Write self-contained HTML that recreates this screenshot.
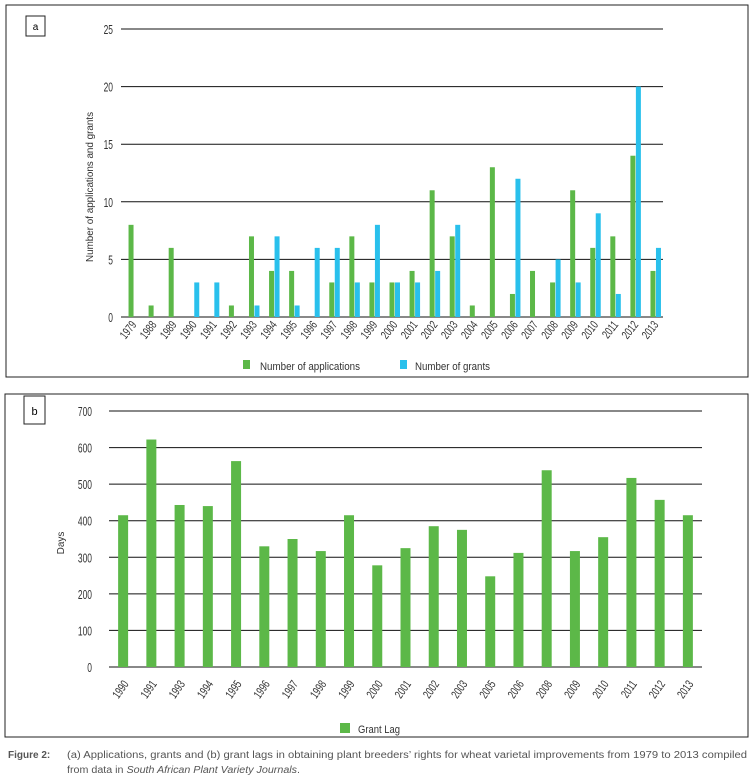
<!DOCTYPE html>
<html><head><meta charset="utf-8"><style>
html,body{margin:0;padding:0;background:#fff;}
svg{display:block;font-family:"Liberation Sans Narrow","Liberation Sans",sans-serif;}
</style></head><body>
<svg id="s" width="750" height="781" viewBox="0 0 750 781">
<rect x="6" y="5" width="742" height="372" fill="none" stroke="#222" stroke-width="1"/>
<rect x="26" y="16" width="19" height="20" fill="none" stroke="#222"/>
<text x="35.5" y="30" font-size="10" text-anchor="middle">a</text>
<text transform="translate(93,187) rotate(-90)" font-size="10" text-anchor="middle" fill="#333" textLength="150" lengthAdjust="spacingAndGlyphs">Number of applications and grants</text>
<g id="ga"></g>
<rect x="243" y="360" width="7" height="9" fill="#5cb848"/>
<text x="260" y="370" font-size="11" fill="#333" textLength="100" lengthAdjust="spacingAndGlyphs">Number of applications</text>
<rect x="400" y="360" width="7" height="9" fill="#29c0ec"/>
<text x="415" y="370" font-size="11" fill="#333" textLength="75" lengthAdjust="spacingAndGlyphs">Number of grants</text>

<rect x="5" y="394" width="743" height="343" fill="none" stroke="#222"/>
<rect x="24" y="396" width="21" height="28" fill="none" stroke="#222"/>
<text x="34.5" y="415" font-size="11" text-anchor="middle">b</text>
<text transform="translate(64,543) rotate(-90)" font-size="10" text-anchor="middle" fill="#333">Days</text>
<g id="gb"></g>
<rect x="340" y="723" width="10" height="10" fill="#5cb848"/>
<text x="358" y="733" font-size="11" fill="#333" textLength="42" lengthAdjust="spacingAndGlyphs">Grant Lag</text>

<text x="8" y="758" font-size="10" font-weight="bold" fill="#555">Figure 2:</text>
<text x="67" y="758" font-size="10" fill="#555" textLength="680" lengthAdjust="spacingAndGlyphs">(a) Applications, grants and (b) grant lags in obtaining plant breeders’ rights for wheat varietal improvements from 1979 to 2013 compiled</text>
<text x="67" y="773" font-size="10" fill="#555" textLength="233" lengthAdjust="spacingAndGlyphs">from data in <tspan font-style="italic">South African Plant Variety Journals</tspan>.</text>
</svg>
<script>
const yearsA = ["1979","1988","1989","1990","1991","1992","1993","1994","1995","1996","1997","1998","1999","2000","2001","2002","2003","2004","2005","2006","2007","2008","2009","2010","2011","2012","2013"];
const applications = [8,1,6,0,0,1,7,4,4,0,3,7,3,3,4,11,7,1,13,2,4,3,11,6,7,14,4];
const grants = [0,0,0,3,3,0,1,7,1,6,6,3,8,3,3,4,8,0,0,12,0,5,3,9,2,20,6];
const ticksA = [0,5,10,15,20,25];
const yearsB = ["1990","1991","1993","1994","1995","1996","1997","1998","1999","2000","2001","2002","2003","2005","2006","2008","2009","2010","2011","2012","2013"];
const grantLag = [415,622,443,440,563,330,350,317,415,278,325,385,375,248,312,538,317,355,517,457,415];
const ticksB = [0,100,200,300,400,500,600,700];
const NS="http://www.w3.org/2000/svg";
function mk(tag,attrs,parent){const e=document.createElementNS(NS,tag);for(const k in attrs)e.setAttribute(k,attrs[k]);parent.appendChild(e);return e;}

// chart a
(function(){
const g=document.getElementById('ga');
const x0=121,x1=663,y0=317,y1=29,max=25;
const step=(x1-x0)/yearsA.length;
const ys=v=>y0-(v/max)*(y0-y1);
const xc=i=>x0+step*(i+0.5);
ticksA.forEach(t=>{
 const l=mk('line',{x1:x0,x2:x1,y1:ys(t),y2:ys(t),stroke:'#111','stroke-width':1},g);
 
 
 const tx=mk('text',{transform:`translate(113,${ys(t)+5}) scale(0.65,1)`,'font-size':13,'text-anchor':'end',fill:'#333'},g);
 tx.textContent=t;
 
 
});
yearsA.forEach((yr,i)=>{
 const c=xc(i);
 const a=applications[i], b=grants[i];
 if(a>0){const r=mk('rect',{x:c-2.5,y:ys(a),width:5,height:y0-ys(a),fill:'#5cb848'},g);
 
 }
 if(b>0){const r=mk('rect',{x:c+3,y:ys(b),width:5,height:y0-ys(b),fill:'#29c0ec'},g);
 
 }
 const t=mk('text',{transform:`translate(${c+6},${y0+8}) rotate(-52) scale(0.7,1)`,'font-size':12,'text-anchor':'end',fill:'#333'},g);
 t.textContent=yr;
 
 
});
})();

// chart b
(function(){
const g=document.getElementById('gb');
const x0=109,x1=702,y0=667,y1=411,max=700;
const step=(x1-x0)/yearsB.length;
const ys=v=>y0-(v/max)*(y0-y1);
const xc=i=>x0+step*(i+0.5);
ticksB.forEach(t=>{
 const l=mk('line',{x1:x0,x2:x1,y1:ys(t),y2:ys(t),stroke:'#111','stroke-width':1},g);
 
 
 const tx=mk('text',{transform:`translate(92,${ys(t)+5}) scale(0.65,1)`,'font-size':13,'text-anchor':'end',fill:'#333'},g);
 tx.textContent=t;
 
 
});
yearsB.forEach((yr,i)=>{
 const c=xc(i), v=grantLag[i];
 const r=mk('rect',{x:c-5,y:ys(v),width:10,height:y0-ys(v),fill:'#5cb848'},g);
 
 
 const t=mk('text',{transform:`translate(${c+6},${y0+17}) rotate(-55) scale(0.7,1)`,'font-size':12,'text-anchor':'end',fill:'#333'},g);
 t.textContent=yr;
 
 
});
})();
</script>
</body></html>
